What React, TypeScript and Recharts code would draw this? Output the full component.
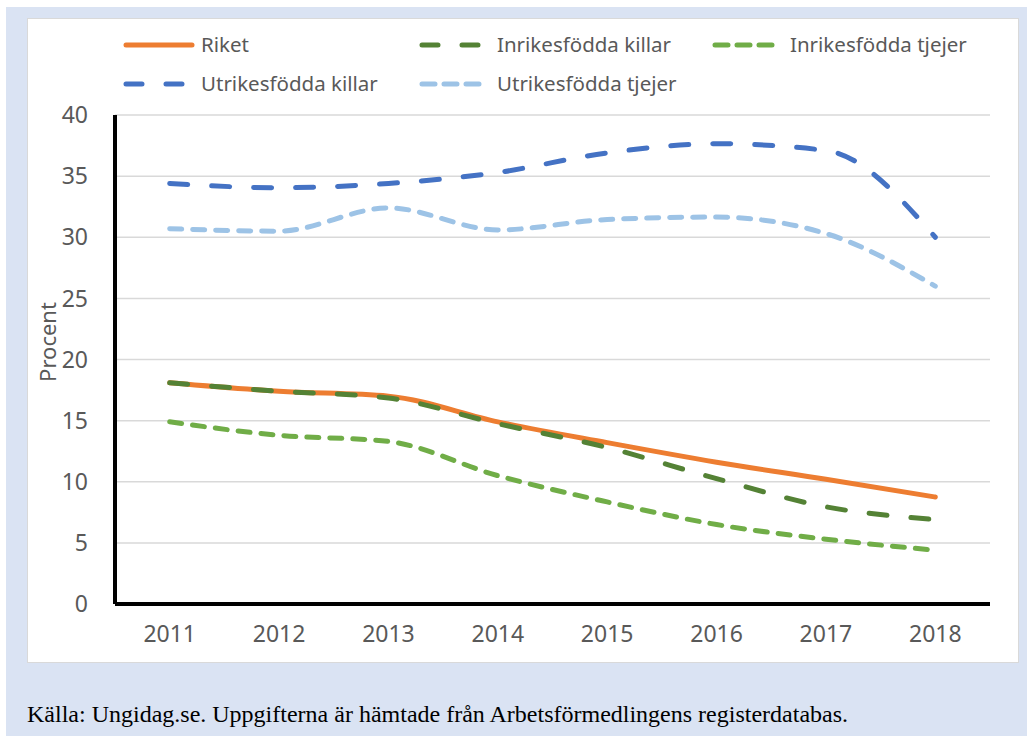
import { CartesianGrid, Legend, Line, LineChart, XAxis, YAxis } from "recharts";

const years = ["2011", "2012", "2013", "2014", "2015", "2016", "2017", "2018"];
const riket = [18.1, 17.4, 17.0, 14.9, 13.2, 11.6, 10.2, 8.75];
const inrikesKillar = [18.1, 17.4, 16.85, 14.75, 12.8, 10.25, 7.95, 6.9];
const inrikesTjejer = [14.9, 13.8, 13.3, 10.5, 8.35, 6.5, 5.3, 4.4];
const utrikesKillar = [34.4, 34.05, 34.4, 35.3, 36.9, 37.65, 37.1, 30.0];
const utrikesTjejer = [30.7, 30.5, 32.4, 30.6, 31.45, 31.65, 30.3, 26.0];
const yTicks = [0, 5, 10, 15, 20, 25, 30, 35, 40];

const FONT = "'Noto Sans', 'Open Sans', sans-serif";
const TEXT = "#595959";

// legend order follows the reference (two rows, three columns)
const series = [
  { key: "riket", name: "Riket", color: "#ed7d31", dash: undefined as string | undefined },
  { key: "inrikesKillar", name: "Inrikesfödda killar", color: "#548235", dash: "18 24" },
  { key: "inrikesTjejer", name: "Inrikesfödda tjejer", color: "#70ad47", dash: "12 11" },
  { key: "utrikesKillar", name: "Utrikesfödda killar", color: "#4472c4", dash: "18 24" },
  { key: "utrikesTjejer", name: "Utrikesfödda tjejer", color: "#9dc3e6", dash: "12 11" },
];

const data = years.map((year, i) => ({
  year,
  riket: riket[i],
  inrikesKillar: inrikesKillar[i],
  inrikesTjejer: inrikesTjejer[i],
  utrikesKillar: utrikesKillar[i],
  utrikesTjejer: utrikesTjejer[i],
}));

const legendCols = [124, 420, 713];

function ChartLegend() {
  return (
    <svg width={1027} height={110} style={{ position: "absolute", left: 0, top: 0 }}>
      {series.map((s, i) => {
        const col = i % 3;
        const row = Math.floor(i / 3);
        const x = legendCols[col];
        const y = 45 + row * 39;
        const iconW = s.dash === "12 11" ? 62 : 68;
        return (
          <g key={s.key}>
            <line
              x1={x + 2}
              x2={x + iconW}
              y1={y}
              y2={y}
              stroke={s.color}
              strokeWidth={5}
              strokeLinecap="round"
              strokeDasharray={s.dash ? (s.dash === "12 11" ? "13 9" : "16 24") : undefined}
            />
            <text x={x + 77} y={y} dy="0.35em" fontSize={20.5} fill={TEXT} fontFamily={FONT}>
              {s.name}
            </text>
          </g>
        );
      })}
    </svg>
  );
}

// axis title sits a little above the plot's middle in the reference
function ProcentLabel() {
  return (
    <text
      x={47}
      y={342}
      transform="rotate(-90 47 342)"
      textAnchor="middle"
      dominantBaseline="central"
      fontSize={22}
      fill={TEXT}
      fontFamily={FONT}
    >
      Procent
    </text>
  );
}

export default function App() {
  return (
    <div style={{ position: "fixed", left: 0, top: 0, width: 1027, height: 736, background: "#ffffff" }}>
      <div style={{ position: "absolute", left: 6, top: 7, width: 1021, height: 729, background: "#dae3f3" }} />
      <div
        style={{
          position: "absolute",
          left: 27,
          top: 18,
          width: 990,
          height: 643,
          background: "#ffffff",
          border: "1px solid #d9d9d9",
        }}
      />
      <div style={{ position: "absolute", left: 0, top: 0 }}>
        <LineChart
          width={1027}
          height={736}
          data={data}
          margin={{ top: 115, right: 37, bottom: 92, left: 20 }}
        >
          <CartesianGrid vertical={false} stroke="#d9d9d9" strokeWidth={1.5} />
          <XAxis
            dataKey="year"
            height={40}
            padding={{ left: 54.7, right: 54.7 }}
            axisLine={{ stroke: "#000000", strokeWidth: 4 }}
            tickLine={false}
            tickMargin={16}
            tick={{ fontSize: 23, fill: TEXT, fontFamily: FONT }}
          />
          <YAxis
            width={95}
            domain={[0, 40]}
            ticks={yTicks}
            interval={0}
            axisLine={{ stroke: "#000000", strokeWidth: 4 }}
            tickLine={false}
            tickMargin={21}
            tick={{ fontSize: 23, fill: TEXT, fontFamily: FONT }}
            label={{ content: () => <ProcentLabel /> }}
          />
          <Legend content={() => null} />
          {series.map((s) => (
            <Line
              key={s.key}
              type="monotone"
              dataKey={s.key}
              name={s.name}
              stroke={s.color}
              strokeWidth={5}
              strokeLinecap="round"
              strokeDasharray={s.dash}
              dot={false}
              activeDot={false}
              isAnimationActive={false}
            />
          ))}
        </LineChart>
      </div>
      <ChartLegend />
      <div
        style={{
          position: "absolute",
          left: 27,
          top: 702,
          fontFamily: "'Liberation Serif', 'Times New Roman', serif",
          fontSize: 24,
          lineHeight: "24px",
          color: "#000000",
          whiteSpace: "nowrap",
        }}
      >
        Källa: Ungidag.se. Uppgifterna är hämtade från Arbetsförmedlingens registerdatabas.
      </div>
    </div>
  );
}
